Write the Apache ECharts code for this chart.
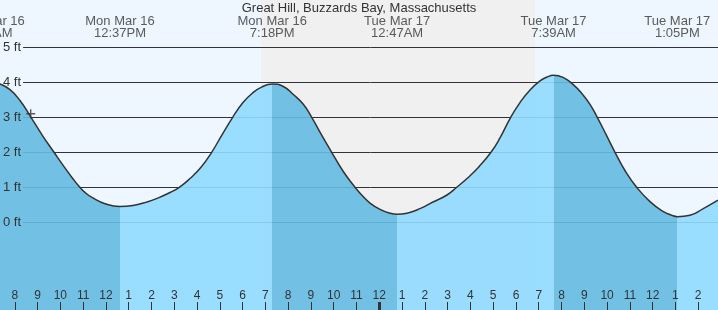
<!DOCTYPE html>
<html><head><meta charset="utf-8">
<script src="https://cdn.jsdelivr.net/npm/echarts@6/dist/echarts.min.js"></script>
<style>html,body{margin:0;padding:0;background:#eef7ff;}#c{width:718px;height:310px;}</style>
</head><body><div id="c"></div>
<script>
// Hours since Mon Mar 16 00:00 (local), tide height in feet
const tideHours = [6.917, 7.350, 7.789, 8.228, 8.711, 9.194, 9.721, 10.248, 10.533, 10.818, 11.104, 11.389, 11.960, 12.617,
  13.189, 13.803, 14.374, 14.813, 15.221, 15.691, 16.174, 16.643, 17.096, 17.565, 18.017, 18.412, 18.852, 19.300,
  19.787, 20.226, 20.665, 21.034, 21.472, 21.911, 22.420, 22.934, 23.241, 23.593, 24.032, 24.470, 24.783,
  25.217, 25.787, 26.358, 26.973, 27.399, 27.851, 28.377, 28.904, 29.299, 29.769, 30.177, 30.617, 31.055, 31.362, 31.650,
  32.065, 32.504, 32.943, 33.250, 33.570, 33.952, 34.348, 34.830, 35.300, 35.884, 36.454, 36.806, 37.083,
  37.640, 38.224, 38.869];
const tideFeet = [4.01, 3.95, 3.79, 3.48, 3.00, 2.50, 2.00, 1.51, 1.26, 1.03, 0.84, 0.71, 0.53, 0.45,
  0.48, 0.58, 0.72, 0.85, 1.00, 1.25, 1.57, 2.00, 2.50, 3.00, 3.42, 3.68, 3.87, 3.95,
  3.88, 3.65, 3.37, 3.00, 2.49, 2.00, 1.45, 1.00, 0.77, 0.55, 0.37, 0.26, 0.23,
  0.26, 0.39, 0.58, 0.78, 1.00, 1.25, 1.59, 2.00, 2.41, 3.00, 3.42, 3.78, 4.04, 4.15, 4.20,
  4.14, 3.94, 3.64, 3.37, 3.00, 2.51, 2.00, 1.43, 1.00, 0.59, 0.31, 0.21, 0.16,
  0.20, 0.39, 0.63];

const eventHours = [6.917, 12.617, 19.300, 24.783, 31.650, 37.083];
const eventTypes = ['high', 'low', 'high', 'low', 'high', 'low'];
const eventLabels = ['Mon Mar 16\n6:55AM', 'Mon Mar 16\n12:37PM', 'Mon Mar 16\n7:18PM',
  'Tue Mar 17\n12:47AM', 'Tue Mar 17\n7:39AM', 'Tue Mar 17\n1:05PM'];

const nightStart = 18.808, nightEnd = 30.836;
const nowTime = 8.698, nowFeet = 3.10;

const hourTicks = [8, 9, 10, 11, 12, 13, 14, 15, 16, 17, 18, 19, 20, 21, 22, 23, 24, 25, 26, 27, 28, 29, 30, 31, 32, 33, 34, 35, 36, 37, 38];
const midnightTicks = [24];
const footTicks = [0, 1, 2, 3, 4, 5];
const titleText = 'Great Hill, Buzzards Bay, Massachusetts';

const X_MIN = 7.3503, X_MAX = 38.869, Y_MIN = -2.506, Y_MAX = 6.351;
const LABEL_ROW = Y_MAX - 27.5 / 35;
const FONT = "'Liberation Sans', Arial, sans-serif";
const LIGHT = 'rgba(144,218,255,0.9)';
const DARK = 'rgba(100,187,226,0.9)';

const pieces = [{ lt: eventHours[0], color: LIGHT }];
for (let i = 0; i < eventHours.length; i++) {
  const p = { gte: eventHours[i], color: eventTypes[i] === 'high' ? DARK : LIGHT };
  if (i + 1 < eventHours.length) p.lt = eventHours[i + 1];
  pieces.push(p);
}

const fmtHour = v => { const h = Math.round(v) % 12; return h === 0 ? '12' : String(h); };

const chart = echarts.init(document.getElementById('c'));
chart.setOption({
  backgroundColor: '#eef7ff',
  animation: false,
  title: { text: titleText, left: 'center', top: 2, padding: 0,
    textStyle: { fontSize: 13, fontWeight: 'normal', color: '#333', fontFamily: FONT, lineHeight: 12 } },
  grid: [{ left: 0, right: 0, top: 0, bottom: 0 }, { left: 22, right: 0, top: 0, bottom: 0 }],
  xAxis: [
    { gridIndex: 0, type: 'value', min: X_MIN, max: X_MAX, position: 'bottom', z: 6,
      axisLine: { show: false, onZero: false }, splitLine: { show: false },
      axisTick: { show: true, inside: true, length: 8, customValues: hourTicks, lineStyle: { color: '#333', width: 1 } },
      axisLabel: { show: true, inside: true, margin: 8, customValues: hourTicks, formatter: fmtHour,
        fontSize: 12, color: '#333', fontFamily: FONT } },
    { gridIndex: 0, type: 'value', min: X_MIN, max: X_MAX, position: 'bottom', offset: 0, z: 6,
      axisLine: { show: false, onZero: false }, splitLine: { show: false }, axisLabel: { show: false },
      axisTick: { show: true, inside: true, length: 8, customValues: midnightTicks, lineStyle: { color: '#333', width: 3 } } },
    { gridIndex: 1, type: 'value', min: 0, max: 1, show: false }
  ],
  yAxis: [
    { gridIndex: 0, type: 'value', min: Y_MIN, max: Y_MAX, show: false },
    { gridIndex: 1, type: 'value', min: Y_MIN, max: Y_MAX, z: 6,
      axisLine: { show: false }, axisTick: { show: false }, splitLine: { show: false },
      axisLabel: { customValues: footTicks, formatter: v => v + ' ft', margin: 2, fontSize: 13, color: '#333', fontFamily: FONT } }
  ],
  visualMap: { show: false, type: 'piecewise', seriesIndex: 1, dimension: 0, pieces: pieces },
  series: [
    { type: 'line', xAxisIndex: 2, yAxisIndex: 1, data: [], silent: true,
      markLine: { silent: true, symbol: 'none', z: 2, animation: false, label: { show: false },
        lineStyle: { color: '#333', width: 1, type: 'solid' },
        data: footTicks.map(v => ({ yAxis: v })) } },
    { type: 'line', xAxisIndex: 0, yAxisIndex: 0, z: 3, silent: true,
      data: tideHours.map((t, i) => [t, tideFeet[i]]),
      smooth: 0.5, showSymbol: false,
      lineStyle: { color: '#333', width: 1.5 },
      areaStyle: { opacity: 1, origin: 'start' },
      markArea: { silent: true, z: 1, itemStyle: { color: '#f0f0f0' },
        data: [[{ xAxis: nightStart }, { xAxis: nightEnd }]] } },
    { type: 'scatter', xAxisIndex: 0, yAxisIndex: 0, z: 4, clip: false, silent: true,
      symbolSize: 1, itemStyle: { color: 'rgba(0,0,0,0)' },
      data: eventHours.map((t, i) => ({ name: eventLabels[i], value: [t, LABEL_ROW] })),
      label: { show: true, position: 'inside', formatter: '{b}', fontSize: 13, lineHeight: 12,
        color: '#333', fontFamily: FONT, align: 'center' } },
    { type: 'scatter', xAxisIndex: 0, yAxisIndex: 0, z: 5, silent: true,
      symbol: 'path://M0,4.2L10,4.2L10,5.8L0,5.8ZM4.2,0L5.8,0L5.8,10L4.2,10Z', symbolSize: 9,
      itemStyle: { color: '#333' }, data: [[nowTime, nowFeet]] }
  ]
});
</script></body></html>
